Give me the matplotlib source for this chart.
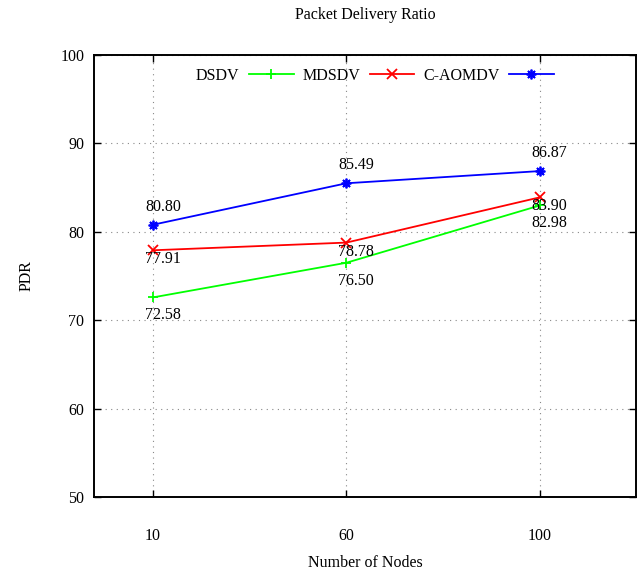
import numpy as np
import matplotlib.pyplot as plt

# data
nodes = ["10", "60", "100"]
dsdv = [72.58, 76.50, 82.98]
mdsdv = [77.91, 78.78, 83.90]
caomdv = [80.80, 85.49, 86.87]
yticks = [50, 60, 70, 80, 90, 100]

plt.rcParams['font.family'] = ['Liberation Serif', 'DejaVu Serif']

fig = plt.figure(figsize=(6.41, 5.73), dpi=100)
ax = fig.add_axes([94 / 641, 76 / 573, 542 / 641, 442 / 573])

x = np.arange(len(nodes))

series = [
    ("DSDV", dsdv, "#00ff00", "+", 18),
    ("MDSDV", mdsdv, "#ff0000", "x", 9),
    ("C-AOMDV", caomdv, "#0000ff", (8, 2, 0), -18),
]

for name, vals, col, mk, dy in series:
    ax.plot(x, vals, color=col, lw=1.3, marker=mk, ms=7, mew=1.3, label=name)
    for xi, v in zip(x, vals):
        ax.annotate("%.2f" % v, (xi, v), xytext=(-8, -dy),
                    textcoords="offset pixels", ha="left", va="center",
                    fontsize=11.5)

ax.set_xlim(-0.305, 2.497)
ax.set_ylim(50, 100)
ax.set_xticks(x)
ax.set_xticklabels(nodes)
ax.set_yticks(yticks)
ax.tick_params(direction="in", top=True, right=True, length=5, width=1,
               labelsize=11.5)
ax.tick_params(axis="x", pad=22)
ax.tick_params(axis="y", pad=7)
ax.grid(True, linestyle=(0, (1, 4)), color="#888888", lw=0.8)
for s in ax.spines.values():
    s.set_linewidth(1.4)

ax.set_title("Packet Delivery Ratio", fontsize=11.5, pad=26)
ax.set_xlabel("Number of Nodes", fontsize=11.5, va="center")
ax.xaxis.set_label_coords(0.5, -0.149)
ax.set_ylabel("PDR", fontsize=11.5, va="center")
ax.yaxis.set_label_coords(-0.124, 0.5)

ax.legend(loc="upper center", bbox_to_anchor=(0.518, 1.004), ncol=3,
          frameon=False, markerfirst=False, handlelength=2.8,
          columnspacing=0.55, handletextpad=0.6, fontsize=11.5)

fig.savefig("out.png", dpi=100)
